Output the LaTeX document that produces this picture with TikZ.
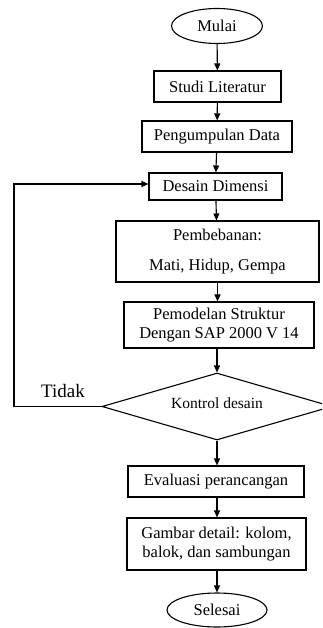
\documentclass[tikz,border=0pt]{standalone}
\usepackage{fontspec}
\setmainfont{Liberation Serif}
\usetikzlibrary{shapes.geometric,arrows.meta}
\begin{document}
\begin{tikzpicture}[x=1pt,y=-1pt,
  box/.style={draw,line width=1.1pt,inner sep=0pt,font=\fontsize{16.5}{19}\selectfont},
  term/.style={draw,ellipse,line width=1.1pt,inner sep=0pt,font=\fontsize{16.5}{19}\selectfont},
  arr/.style={-{Triangle[length=7pt,width=6pt]},line width=1.1pt}]
\useasboundingbox (0,0) rectangle (322,628);
\clip (0,0) rectangle (322,628);
\node[term,minimum width=91pt,minimum height=35pt] (mulai) at (217,26) {Mulai};
\node[box,minimum width=127pt,minimum height=31pt] (studi) at (217.5,86.5) {Studi Literatur};
\node[box,minimum width=150pt,minimum height=31pt] (data) at (217,136.5) {Pengumpulan Data};
\node[box,minimum width=133pt,minimum height=27pt] (desain) at (215.5,186.5) {Desain Dimensi};
\node[box,minimum width=203pt,minimum height=61pt,align=center,font=\fontsize{16.5}{30}\selectfont] (beban) at (217.5,251.5) {Pembebanan:\\Mati, Hidup, Gempa};
\node[box,minimum width=190pt,minimum height=46pt,align=center,font=\fontsize{16.5}{18.5}\selectfont] (model) at (219,325) {Pemodelan Struktur\\Dengan SAP 2000 V 14};
\node[draw,diamond,line width=1.1pt,minimum width=230pt,minimum height=67pt,inner sep=0pt] (kontrol) at (217,406.5) {};
\node[font=\fontsize{15.5}{18}\selectfont] (ktext) at (217,403) {Kontrol desain};
\node[font=\fontsize{19}{22}\selectfont] (tidak) at (63,391) {Tidak};
\node[box,minimum width=176pt,minimum height=31pt] (eval) at (216,481.5) {Evaluasi perancangan};
\node[box,minimum width=179pt,minimum height=52pt,align=center,font=\fontsize{16.5}{19.5}\selectfont] (gambar) at (216.5,544) {Gambar detail: kolom,\\balok, dan sambungan};
\node[term,minimum width=100pt,minimum height=34pt] (selesai) at (217,610) {Selesai};
\coordinate (c1) at (14,406.5);
\coordinate (c2) at (14,184);
\draw[arr] (mulai) -- (studi);
\draw[arr] (studi) -- (data);
\draw[arr] (data) -- (desain);
\draw[arr] (desain) -- (beban);
\draw[arr] (beban) -- (model.north -| beban.south);
\draw[arr] (model.south -| kontrol.north) -- (kontrol.north);
\draw[arr] (kontrol.south) -- (eval.north -| kontrol.south);
\draw[arr] (eval.south -| kontrol.south) -- (gambar.north -| kontrol.south);
\draw[arr] (gambar.south -| selesai.north) -- (selesai.north);
\draw[arr] (kontrol.west) -- (c1) -- (c2) -- (c2 -| desain.west);
\end{tikzpicture}
\end{document}
